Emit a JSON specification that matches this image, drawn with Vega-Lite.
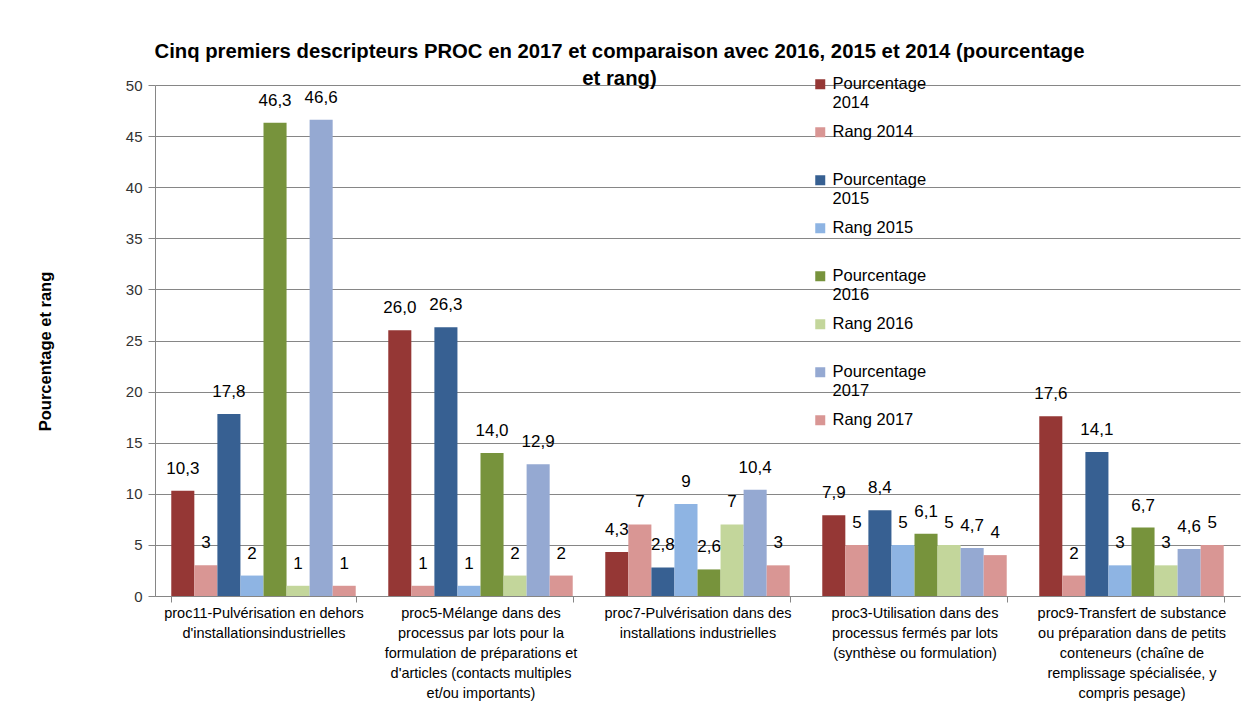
{
  "$schema": "https://vega.github.io/schema/vega-lite/v6.json",
  "autosize": {"type": "none"},
  "width": 1085,
  "height": 511,
  "padding": {"left": 155, "top": 85, "right": 2, "bottom": 110},
  "background": "white",
  "config": {
    "font": "Liberation Sans",
    "view": {"stroke": null},
    "locale": {"number": {"decimal": ",", "thousands": " ", "grouping": [3], "currency": ["", " €"]}}
  },
  "title": {
    "text": ["Cinq premiers descripteurs PROC en 2017 et comparaison  avec 2016, 2015 et 2014 (pourcentage", "et rang)"],
    "font": "Liberation Sans",
    "fontSize": 20.3,
    "fontWeight": "bold",
    "color": "#000000",
    "lineHeight": 27,
    "anchor": "middle",
    "dx": -78,
    "dy": 17,
    "offset": 4
  },
  "data": {
    "values": [
      {"cat": "proc11-Pulvérisation en dehors|d'installationsindustrielles", "serie": "Pourcentage 2014", "type": "P", "value": 10.3},
      {"cat": "proc11-Pulvérisation en dehors|d'installationsindustrielles", "serie": "Rang 2014", "type": "R", "value": 3},
      {"cat": "proc11-Pulvérisation en dehors|d'installationsindustrielles", "serie": "Pourcentage 2015", "type": "P", "value": 17.8},
      {"cat": "proc11-Pulvérisation en dehors|d'installationsindustrielles", "serie": "Rang 2015", "type": "R", "value": 2},
      {"cat": "proc11-Pulvérisation en dehors|d'installationsindustrielles", "serie": "Pourcentage 2016", "type": "P", "value": 46.3},
      {"cat": "proc11-Pulvérisation en dehors|d'installationsindustrielles", "serie": "Rang 2016", "type": "R", "value": 1},
      {"cat": "proc11-Pulvérisation en dehors|d'installationsindustrielles", "serie": "Pourcentage 2017", "type": "P", "value": 46.6},
      {"cat": "proc11-Pulvérisation en dehors|d'installationsindustrielles", "serie": "Rang 2017", "type": "R", "value": 1},
      {"cat": "proc5-Mélange dans des|processus par lots pour la|formulation de préparations et|d'articles (contacts multiples|et/ou importants)", "serie": "Pourcentage 2014", "type": "P", "value": 26.0},
      {"cat": "proc5-Mélange dans des|processus par lots pour la|formulation de préparations et|d'articles (contacts multiples|et/ou importants)", "serie": "Rang 2014", "type": "R", "value": 1},
      {"cat": "proc5-Mélange dans des|processus par lots pour la|formulation de préparations et|d'articles (contacts multiples|et/ou importants)", "serie": "Pourcentage 2015", "type": "P", "value": 26.3},
      {"cat": "proc5-Mélange dans des|processus par lots pour la|formulation de préparations et|d'articles (contacts multiples|et/ou importants)", "serie": "Rang 2015", "type": "R", "value": 1},
      {"cat": "proc5-Mélange dans des|processus par lots pour la|formulation de préparations et|d'articles (contacts multiples|et/ou importants)", "serie": "Pourcentage 2016", "type": "P", "value": 14.0},
      {"cat": "proc5-Mélange dans des|processus par lots pour la|formulation de préparations et|d'articles (contacts multiples|et/ou importants)", "serie": "Rang 2016", "type": "R", "value": 2},
      {"cat": "proc5-Mélange dans des|processus par lots pour la|formulation de préparations et|d'articles (contacts multiples|et/ou importants)", "serie": "Pourcentage 2017", "type": "P", "value": 12.9},
      {"cat": "proc5-Mélange dans des|processus par lots pour la|formulation de préparations et|d'articles (contacts multiples|et/ou importants)", "serie": "Rang 2017", "type": "R", "value": 2},
      {"cat": "proc7-Pulvérisation dans des|installations industrielles", "serie": "Pourcentage 2014", "type": "P", "value": 4.3},
      {"cat": "proc7-Pulvérisation dans des|installations industrielles", "serie": "Rang 2014", "type": "R", "value": 7},
      {"cat": "proc7-Pulvérisation dans des|installations industrielles", "serie": "Pourcentage 2015", "type": "P", "value": 2.8},
      {"cat": "proc7-Pulvérisation dans des|installations industrielles", "serie": "Rang 2015", "type": "R", "value": 9},
      {"cat": "proc7-Pulvérisation dans des|installations industrielles", "serie": "Pourcentage 2016", "type": "P", "value": 2.6},
      {"cat": "proc7-Pulvérisation dans des|installations industrielles", "serie": "Rang 2016", "type": "R", "value": 7},
      {"cat": "proc7-Pulvérisation dans des|installations industrielles", "serie": "Pourcentage 2017", "type": "P", "value": 10.4},
      {"cat": "proc7-Pulvérisation dans des|installations industrielles", "serie": "Rang 2017", "type": "R", "value": 3},
      {"cat": "proc3-Utilisation dans des|processus fermés par lots|(synthèse ou formulation)", "serie": "Pourcentage 2014", "type": "P", "value": 7.9},
      {"cat": "proc3-Utilisation dans des|processus fermés par lots|(synthèse ou formulation)", "serie": "Rang 2014", "type": "R", "value": 5},
      {"cat": "proc3-Utilisation dans des|processus fermés par lots|(synthèse ou formulation)", "serie": "Pourcentage 2015", "type": "P", "value": 8.4},
      {"cat": "proc3-Utilisation dans des|processus fermés par lots|(synthèse ou formulation)", "serie": "Rang 2015", "type": "R", "value": 5},
      {"cat": "proc3-Utilisation dans des|processus fermés par lots|(synthèse ou formulation)", "serie": "Pourcentage 2016", "type": "P", "value": 6.1},
      {"cat": "proc3-Utilisation dans des|processus fermés par lots|(synthèse ou formulation)", "serie": "Rang 2016", "type": "R", "value": 5},
      {"cat": "proc3-Utilisation dans des|processus fermés par lots|(synthèse ou formulation)", "serie": "Pourcentage 2017", "type": "P", "value": 4.7},
      {"cat": "proc3-Utilisation dans des|processus fermés par lots|(synthèse ou formulation)", "serie": "Rang 2017", "type": "R", "value": 4},
      {"cat": "proc9-Transfert de substance|ou préparation dans de petits|conteneurs (chaîne de|remplissage spécialisée, y|compris pesage)", "serie": "Pourcentage 2014", "type": "P", "value": 17.6},
      {"cat": "proc9-Transfert de substance|ou préparation dans de petits|conteneurs (chaîne de|remplissage spécialisée, y|compris pesage)", "serie": "Rang 2014", "type": "R", "value": 2},
      {"cat": "proc9-Transfert de substance|ou préparation dans de petits|conteneurs (chaîne de|remplissage spécialisée, y|compris pesage)", "serie": "Pourcentage 2015", "type": "P", "value": 14.1},
      {"cat": "proc9-Transfert de substance|ou préparation dans de petits|conteneurs (chaîne de|remplissage spécialisée, y|compris pesage)", "serie": "Rang 2015", "type": "R", "value": 3},
      {"cat": "proc9-Transfert de substance|ou préparation dans de petits|conteneurs (chaîne de|remplissage spécialisée, y|compris pesage)", "serie": "Pourcentage 2016", "type": "P", "value": 6.7},
      {"cat": "proc9-Transfert de substance|ou préparation dans de petits|conteneurs (chaîne de|remplissage spécialisée, y|compris pesage)", "serie": "Rang 2016", "type": "R", "value": 3},
      {"cat": "proc9-Transfert de substance|ou préparation dans de petits|conteneurs (chaîne de|remplissage spécialisée, y|compris pesage)", "serie": "Pourcentage 2017", "type": "P", "value": 4.6},
      {"cat": "proc9-Transfert de substance|ou préparation dans de petits|conteneurs (chaîne de|remplissage spécialisée, y|compris pesage)", "serie": "Rang 2017", "type": "R", "value": 5}
    ]
  },
  "encoding": {
    "x": {
      "field": "cat",
      "type": "nominal",
      "sort": null,
      "scale": {"paddingInner": 0.15, "paddingOuter": 0.075},
      "axis": {
        "title": null,
        "labelAngle": 0,
        "labelExpr": "split(datum.label, '|')",
        "labelFont": "Liberation Sans",
        "labelFontSize": 14.5,
        "labelColor": "#000000",
        "labelLineHeight": 20,
        "labelBaseline": "top",
        "labelPadding": 4,
        "labelLimit": 0,
        "domainColor": "#868686",
        "tickColor": "#868686",
        "tickBand": "extent",
        "tickSize": 6
      }
    },
    "xOffset": {
      "field": "serie",
      "type": "nominal",
      "sort": ["Pourcentage 2014", "Rang 2014", "Pourcentage 2015", "Rang 2015", "Pourcentage 2016", "Rang 2016", "Pourcentage 2017", "Rang 2017"],
      "scale": {"paddingInner": 0, "paddingOuter": 0}
    },
    "y": {
      "field": "value",
      "type": "quantitative",
      "scale": {"domain": [0, 50], "nice": false},
      "axis": {
        "title": "Pourcentage et rang",
        "titleFont": "Liberation Sans",
        "titleFontSize": 16.5,
        "titleFontWeight": "bold",
        "titleColor": "#000000",
        "titleX": -110,
        "titleY": 266,
        "titleAngle": -90,
        "titleAlign": "center",
        "titleBaseline": "middle",
        "values": [0, 5, 10, 15, 20, 25, 30, 35, 40, 45, 50],
        "labelFontSize": 15,
        "labelColor": "#333333",
        "labelPadding": 6,
        "tickSize": 7,
        "tickColor": "#868686",
        "domainColor": "#868686",
        "gridColor": "#868686",
        "gridWidth": 1
      }
    }
  },
  "layer": [
    {
      "mark": {"type": "bar"},
      "encoding": {
        "color": {
          "field": "serie",
          "type": "nominal",
          "sort": ["Pourcentage 2014", "Rang 2014", "Pourcentage 2015", "Rang 2015", "Pourcentage 2016", "Rang 2016", "Pourcentage 2017", "Rang 2017"],
          "scale": {
            "domain": ["Pourcentage 2014", "Rang 2014", "Pourcentage 2015", "Rang 2015", "Pourcentage 2016", "Rang 2016", "Pourcentage 2017", "Rang 2017"],
            "range": ["#953735", "#d99694", "#376092", "#8eb4e3", "#77933c", "#c3d69b", "#95a9d2", "#d99694"]
          },
          "legend": {
            "title": null,
            "orient": "none",
            "legendX": 657,
            "legendY": -9,
            "symbolType": "square",
            "symbolSize": 100,
            "symbolStrokeWidth": 0,
            "labelFont": "Liberation Sans",
            "labelFontSize": 16.5,
            "labelColor": "#000000",
            "labelBaseline": "middle",
            "labelOffset": 4,
            "labelLimit": 0,
            "rowPadding": 12,
            "labelExpr": "indexof(datum.label, 'Pourcentage') == 0 ? ['Pourcentage', replace(datum.label, 'Pourcentage ', '')] : [datum.label, ' ']"
          }
        }
      }
    },
    {
      "transform": [{"filter": "datum.type == 'P'"}],
      "mark": {"type": "text", "baseline": "middle", "dy": -22, "fontSize": 17, "color": "#000000", "font": "Liberation Sans"},
      "encoding": {"text": {"field": "value", "type": "quantitative", "format": ".1f"}}
    },
    {
      "transform": [{"filter": "datum.type == 'R'"}],
      "mark": {"type": "text", "baseline": "middle", "dy": -22, "fontSize": 17, "color": "#000000", "font": "Liberation Sans"},
      "encoding": {"text": {"field": "value", "type": "quantitative", "format": "d"}}
    }
  ]
}
